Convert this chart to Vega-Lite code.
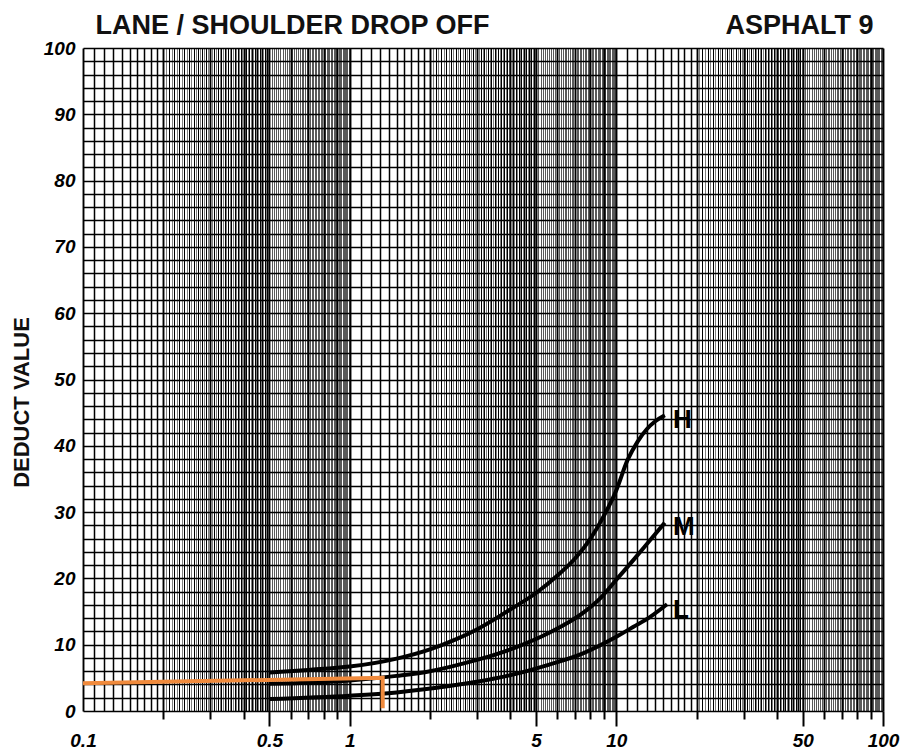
{
  "$schema": "https://vega.github.io/schema/vega-lite/v6.json",
  "width": 800,
  "height": 663,
  "autosize": {"type": "none"},
  "padding": {"left": 83, "top": 48, "right": 26, "bottom": 43},
  "background": "white",
  "config": {"view": {"stroke": null}},
  "datasets": {
    "curves": [
      {"s": "H", "x": 0.5, "y": 5.8}, {"s": "H", "x": 0.7, "y": 6.2}, {"s": "H", "x": 1, "y": 6.7}, {"s": "H", "x": 1.5, "y": 7.9}, {"s": "H", "x": 2, "y": 9.3}, {"s": "H", "x": 2.5, "y": 10.8}, {"s": "H", "x": 3, "y": 12.3}, {"s": "H", "x": 4, "y": 15.3}, {"s": "H", "x": 5, "y": 17.8}, {"s": "H", "x": 6, "y": 20.4}, {"s": "H", "x": 7, "y": 23.0}, {"s": "H", "x": 8, "y": 26.0}, {"s": "H", "x": 9, "y": 29.5}, {"s": "H", "x": 10, "y": 33.3}, {"s": "H", "x": 11, "y": 37.8}, {"s": "H", "x": 12, "y": 40.6}, {"s": "H", "x": 13, "y": 42.5}, {"s": "H", "x": 14, "y": 43.7}, {"s": "H", "x": 15.2, "y": 44.6},
      {"s": "M", "x": 0.5, "y": 4.1}, {"s": "M", "x": 1, "y": 4.6}, {"s": "M", "x": 1.5, "y": 5.3}, {"s": "M", "x": 2, "y": 6.0}, {"s": "M", "x": 2.4, "y": 6.7}, {"s": "M", "x": 3, "y": 7.7}, {"s": "M", "x": 4.2, "y": 9.6}, {"s": "M", "x": 5.6, "y": 11.8}, {"s": "M", "x": 7.5, "y": 14.8}, {"s": "M", "x": 8.7, "y": 17.0}, {"s": "M", "x": 10, "y": 19.8}, {"s": "M", "x": 11.6, "y": 22.8}, {"s": "M", "x": 13.4, "y": 25.8}, {"s": "M", "x": 15.2, "y": 28.4},
      {"s": "L", "x": 0.5, "y": 1.8}, {"s": "L", "x": 1, "y": 2.3}, {"s": "L", "x": 1.5, "y": 2.8}, {"s": "L", "x": 2.4, "y": 3.8}, {"s": "L", "x": 3, "y": 4.4}, {"s": "L", "x": 4.2, "y": 5.6}, {"s": "L", "x": 5.6, "y": 7.0}, {"s": "L", "x": 7.5, "y": 8.7}, {"s": "L", "x": 10, "y": 11.2}, {"s": "L", "x": 11.6, "y": 12.7}, {"s": "L", "x": 13.4, "y": 14.2}, {"s": "L", "x": 15.5, "y": 16.1}
    ],
    "orange": [
      {"x": 0.1, "y": 4.2, "o": 1},
      {"x": 1.33, "y": 5.0, "o": 2},
      {"x": 1.33, "y": 0.4, "o": 3}
    ],
    "labels": [
      {"t": "H", "x": 16.3, "y": 43.9},
      {"t": "M", "x": 16.3, "y": 27.8},
      {"t": "L", "x": 16.3, "y": 15.2}
    ]
  },
  "resolve": {"axis": {"x": "independent", "y": "independent"}},
  "layer": [
    {
      "data": {"name": "curves"},
      "mark": {"type": "line", "color": "#000", "strokeWidth": 4, "interpolate": "monotone", "strokeCap": "butt"},
      "encoding": {
        "x": {
          "field": "x", "type": "quantitative",
          "scale": {"type": "log", "domain": [0.1, 100], "nice": false},
          "axis": {
            "orient": "bottom", "title": null, "labels": false, "ticks": false, "domain": false,
            "grid": true, "gridColor": "#000", "gridOpacity": 1,
            "values": [0.1,0.11,0.12,0.13,0.14,0.15,0.16,0.17,0.18,0.19,
              0.2,0.205,0.21,0.215,0.22,0.225,0.23,0.235,0.24,0.245,0.25,0.255,0.26,0.265,0.27,0.275,0.28,0.285,0.29,0.295,
              0.3,0.305,0.31,0.315,0.32,0.325,0.33,0.335,0.34,0.345,0.35,0.355,0.36,0.365,0.37,0.375,0.38,0.385,0.39,0.395,
              0.4,0.405,0.41,0.415,0.42,0.425,0.43,0.435,0.44,0.445,0.45,0.455,0.46,0.465,0.47,0.475,0.48,0.485,0.49,0.495,
              0.5,0.51,0.52,0.53,0.54,0.55,0.56,0.57,0.58,0.59,0.6,0.61,0.62,0.63,0.64,0.65,0.66,0.67,0.68,0.69,
              0.7,0.71,0.72,0.73,0.74,0.75,0.76,0.77,0.78,0.79,0.8,0.81,0.82,0.83,0.84,0.85,0.86,0.87,0.88,0.89,
              0.9,0.91,0.92,0.93,0.94,0.95,0.96,0.97,0.98,0.99,
              1,1.1,1.2,1.3,1.4,1.5,1.6,1.7,1.8,1.9,
              2,2.05,2.1,2.15,2.2,2.25,2.3,2.35,2.4,2.45,2.5,2.55,2.6,2.65,2.7,2.75,2.8,2.85,2.9,2.95,
              3,3.05,3.1,3.15,3.2,3.25,3.3,3.35,3.4,3.45,3.5,3.55,3.6,3.65,3.7,3.75,3.8,3.85,3.9,3.95,
              4,4.05,4.1,4.15,4.2,4.25,4.3,4.35,4.4,4.45,4.5,4.55,4.6,4.65,4.7,4.75,4.8,4.85,4.9,4.95,
              5,5.1,5.2,5.3,5.4,5.5,5.6,5.7,5.8,5.9,6,6.1,6.2,6.3,6.4,6.5,6.6,6.7,6.8,6.9,
              7,7.1,7.2,7.3,7.4,7.5,7.6,7.7,7.8,7.9,8,8.1,8.2,8.3,8.4,8.5,8.6,8.7,8.8,8.9,
              9,9.1,9.2,9.3,9.4,9.5,9.6,9.7,9.8,9.9,
              10,11,12,13,14,15,16,17,18,19,
              20,20.5,21,21.5,22,22.5,23,23.5,24,24.5,25,25.5,26,26.5,27,27.5,28,28.5,29,29.5,
              30,30.5,31,31.5,32,32.5,33,33.5,34,34.5,35,35.5,36,36.5,37,37.5,38,38.5,39,39.5,
              40,40.5,41,41.5,42,42.5,43,43.5,44,44.5,45,45.5,46,46.5,47,47.5,48,48.5,49,49.5,
              50,51,52,53,54,55,56,57,58,59,60,61,62,63,64,65,66,67,68,69,
              70,71,72,73,74,75,76,77,78,79,80,81,82,83,84,85,86,87,88,89,
              90,91,92,93,94,95,96,97,98,99,100],
            "gridWidth": {
              "condition": [
                {"test": "abs(datum.value/pow(10,floor(log(datum.value)/LN10+1e-9)) - round(datum.value/pow(10,floor(log(datum.value)/LN10+1e-9)))) < 1e-6", "value": 1.9},
                {"test": "datum.value/pow(10,floor(log(datum.value)/LN10+1e-9)) < 1.999", "value": 1.5},
                {"test": "datum.value/pow(10,floor(log(datum.value)/LN10+1e-9)) < 4.999 && abs(10*datum.value/pow(10,floor(log(datum.value)/LN10+1e-9)) - round(10*datum.value/pow(10,floor(log(datum.value)/LN10+1e-9)))) < 1e-4", "value": 1.0},
                {"test": "datum.value/pow(10,floor(log(datum.value)/LN10+1e-9)) < 4.999", "value": 0.5}
              ],
              "value": 0.65
            }
          }
        },
        "y": {
          "field": "y", "type": "quantitative",
          "scale": {"domain": [0, 100], "nice": false},
          "axis": {
            "values": [0,2,4,6,8,10,12,14,16,18,20,22,24,26,28,30,32,34,36,38,40,42,44,46,48,50,52,54,56,58,60,62,64,66,68,70,72,74,76,78,80,82,84,86,88,90,92,94,96,98,100],
            "grid": true, "gridColor": "#000", "gridOpacity": 1, "gridWidth": 1.5,
            "domain": false, "ticks": false,
            "labelExpr": "datum.value % 10 === 0 ? datum.label : ''",
            "labelFont": "Liberation Sans", "labelFontSize": 19, "labelFontWeight": "bold", "labelFontStyle": "italic",
            "labelColor": "#000", "labelPadding": 8, "labelOverlap": false, "labelFlush": false, "labelBound": false,
            "title": "DEDUCT VALUE", "titleFont": "Liberation Sans", "titleFontSize": 22, "titleFontWeight": "bold",
            "titleColor": "#111", "titleX": -62, "titleY": 354, "titleAngle": -90, "titleAlign": "center", "titleBaseline": "middle"
          }
        },
        "detail": {"field": "s", "type": "nominal"}
      }
    },
    {
      "data": {"name": "orange"},
      "mark": {"type": "line", "color": "#F08A3C", "strokeWidth": 4, "strokeCap": "butt", "strokeJoin": "miter"},
      "encoding": {
        "x": {
          "field": "x", "type": "quantitative",
          "scale": {"type": "log", "domain": [0.1, 100], "nice": false},
          "axis": {
            "orient": "top", "labels": false, "ticks": false, "domain": false, "grid": false,
            "title": "ASPHALT 9", "titleFont": "Liberation Sans", "titleFontSize": 27, "titleFontWeight": "bold",
            "titleColor": "#111", "titleX": 790, "titleY": -15, "titleAlign": "right", "titleBaseline": "alphabetic", "titleAngle": 0
          }
        },
        "y": {
          "field": "y", "type": "quantitative", "scale": {"domain": [0, 100], "nice": false},
          "axis": {
            "orient": "left", "labels": false, "ticks": false, "domain": false, "grid": false,
            "title": "LANE / SHOULDER DROP OFF", "titleFont": "Liberation Sans", "titleFontSize": 27, "titleFontWeight": "bold",
            "titleColor": "#111", "titleX": 12, "titleY": -15, "titleAlign": "left", "titleBaseline": "alphabetic", "titleAngle": 0
          }
        },
        "order": {"field": "o", "type": "quantitative"}
      }
    },
    {
      "data": {"name": "labels"},
      "mark": {"type": "text", "font": "Liberation Sans", "fontSize": 26, "fontWeight": "bold", "align": "left", "baseline": "middle", "color": "#000"},
      "encoding": {
        "x": {
          "field": "x", "type": "quantitative",
          "scale": {"type": "log", "domain": [0.1, 100], "nice": false},
          "axis": {
            "orient": "bottom", "title": null, "grid": false, "domain": false,
            "values": [0.1,0.2,0.3,0.4,0.5,0.6,0.7,0.8,0.9,1,2,3,4,5,6,7,8,9,10,20,30,40,50,60,70,80,90,100],
            "ticks": true, "tickColor": "#000", "tickWidth": 2,
            "tickSize": {"condition": {"test": "indexof([0.1,0.5,1,5,10,50,100], datum.value) >= 0", "value": 15}, "value": 8},
            "tickOpacity": {"condition": {"test": "datum.value === 0.1", "value": 0}, "value": 1},
            "labelExpr": "indexof([0.1,0.5,1,5,10,50,100], datum.value) >= 0 ? toString(datum.value) : ''",
            "labelFont": "Liberation Sans", "labelFontSize": 19, "labelFontWeight": "bold", "labelFontStyle": "italic",
            "labelColor": "#000", "labelPadding": 5, "labelOverlap": false, "labelFlush": false, "labelBound": false,
            "labelBaseline": "top"
          }
        },
        "y": {"field": "y", "type": "quantitative", "scale": {"domain": [0, 100], "nice": false}, "axis": null},
        "text": {"field": "t", "type": "nominal"}
      }
    }
  ]
}
